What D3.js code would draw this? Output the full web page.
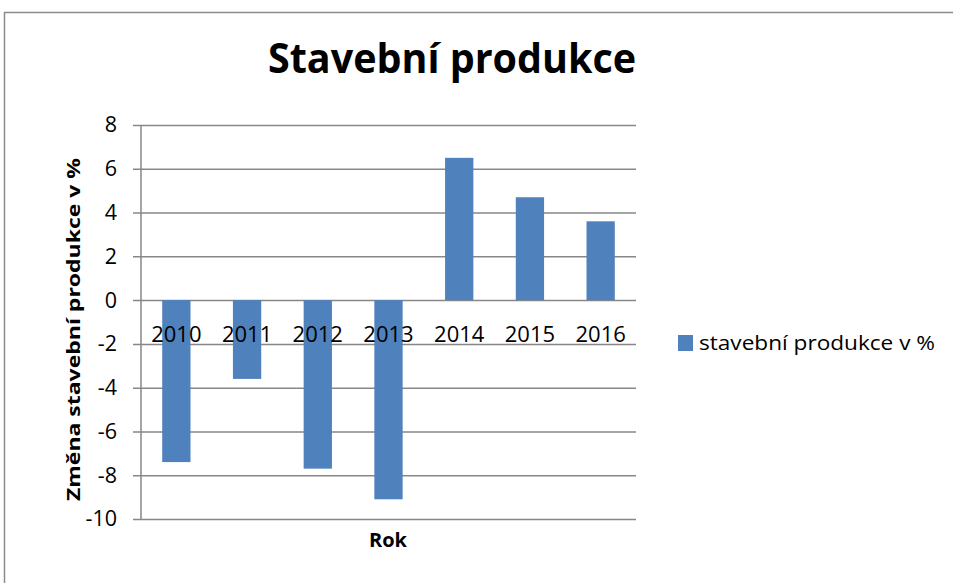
<!DOCTYPE html>
<html>
<head>
<meta charset="utf-8">
<script src="https://cdn.jsdelivr.net/npm/d3@7"></script>
<style>
  html, body { margin: 0; padding: 0; background: #fff; }
  svg { display: block; font-family: "Open Sans", Lato, sans-serif; }
</style>
</head>
<body>
<svg id="chart" width="953" height="583"></svg>
<script>
// Annual change of construction output (%)
const years = ["2010", "2011", "2012", "2013", "2014", "2015", "2016"];
const values = [-7.4, -3.6, -7.7, -9.1, 6.5, 4.7, 3.6];
const yTicks = [8, 6, 4, 2, 0, -2, -4, -6, -8, -10];
const seriesName = "stavební produkce v %";

const svg = d3.select("#chart");
const W = 953, H = 583;
const plot = { left: 141, right: 636, top: 125, bottom: 519 };
const barColor = "#4F81BD";
const gridColor = "#878787";

// chart frame
svg.append("path")
  .attr("d", `M4.5,${H} V12.5 H${W}`)
  .attr("fill", "none")
  .attr("stroke", "#8c8c8c")
  .attr("stroke-width", 1.5);

const x = d3.scaleBand().domain(years).range([plot.left, plot.right]).paddingInner(0.6).paddingOuter(0.3);
const y = d3.scaleLinear().domain([-10, 8]).range([plot.bottom, plot.top]);

// horizontal gridlines with tick marks
const yAxis = d3.axisLeft(y).tickValues(yTicks).tickSize(-(plot.right - plot.left)).tickPadding(24)
  .tickFormat(d => d < 0 ? "-" + Math.abs(d) : d);
const gy = svg.append("g").attr("transform", `translate(${plot.left},0)`).call(yAxis);
gy.select(".domain").remove();
gy.selectAll(".tick line").attr("stroke", gridColor).attr("stroke-width", 1.5)
  .attr("x1", -8);
gy.selectAll(".tick text").attr("font-size", 21.5).attr("fill", "#000")
  .attr("font-family", "'Open Sans', sans-serif");

// vertical axis line
svg.append("line")
  .attr("x1", plot.left).attr("x2", plot.left)
  .attr("y1", plot.top).attr("y2", plot.bottom)
  .attr("stroke", gridColor).attr("stroke-width", 1.5);

// bars
svg.append("g").selectAll("rect").data(values).join("rect")
  .attr("x", (d, i) => x(years[i]))
  .attr("width", x.bandwidth())
  .attr("y", d => y(Math.max(0, d)))
  .attr("height", d => Math.abs(y(d) - y(0)))
  .attr("fill", barColor);

// category labels just under the zero line
svg.append("g").selectAll("text").data(years).join("text")
  .attr("x", d => x(d) + x.bandwidth() / 2)
  .attr("y", y(0) + 42)
  .attr("text-anchor", "middle")
  .attr("font-size", 22)
  .attr("fill", "#000")
  .text(d => d);

// title
svg.append("text")
  .attr("x", 452).attr("y", 73)
  .attr("text-anchor", "middle")
  .attr("font-size", 41).attr("font-weight", "bold")
  .attr("textLength", 368).attr("lengthAdjust", "spacingAndGlyphs")
  .text("Stavební produkce");

// axis titles
svg.append("text")
  .attr("transform", `translate(80,329.5) rotate(-90)`)
  .attr("text-anchor", "middle")
  .attr("font-size", 18).attr("font-weight", "bold")
  .attr("textLength", 343).attr("lengthAdjust", "spacingAndGlyphs")
  .text("Změna stavební produkce v %");

svg.append("text")
  .attr("x", 388).attr("y", 547)
  .attr("text-anchor", "middle")
  .attr("font-size", 20).attr("font-weight", "bold")
  .text("Rok");

// legend
const lg = svg.append("g").attr("transform", "translate(678,335)");
lg.append("rect").attr("width", 15).attr("height", 16).attr("fill", barColor);
lg.append("text").attr("x", 21).attr("y", 14.5).attr("font-size", 20)
  .attr("textLength", 236).attr("lengthAdjust", "spacingAndGlyphs")
  .text(seriesName);
</script>
</body>
</html>
